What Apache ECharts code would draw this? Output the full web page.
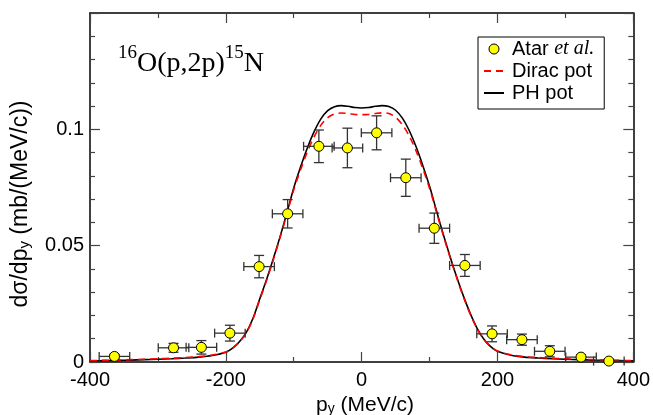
<!DOCTYPE html>
<html>
<head>
<meta charset="utf-8">
<script src="https://cdn.jsdelivr.net/npm/echarts@6/dist/echarts.min.js"></script>
<style>
html,body{margin:0;padding:0;background:#fff;}
#chart{width:653px;height:415px;}
</style>
</head>
<body>
<div id="chart"></div>
<script>
// ---- data ----
var expP    = [-364, -277, -236, -194, -151, -109, -63, -21, 22, 65, 107, 152, 192, 236, 277, 323, 364];
var expVal  = [0.0024, 0.0061, 0.0063, 0.0124, 0.0410, 0.0637, 0.0927, 0.0920, 0.0985, 0.0792, 0.0575, 0.0415, 0.0121, 0.0096, 0.0046, 0.0021, 0.0004];
var expPErr = [22.5, 22.5, 22.5, 22.5, 22.5, 22.5, 22.5, 22.5, 22.5, 22.5, 22.5, 22.5, 22.5, 22.5, 22.5, 22.5, 22.5];
var expVErr = [0.0009, 0.0019, 0.0029, 0.0034, 0.0048, 0.0061, 0.0070, 0.0085, 0.0073, 0.0080, 0.0065, 0.0047, 0.0034, 0.0024, 0.0024, 0.0010, 0.0008];

var curveP = [-400,-380,-360,-340,-320,-300,-280,-260,-240,-220,-200,-190,-180,-170,-160,-150,-140,-130,-120,-110,-100,-90,-80,-70,-60,-50,-40,-30,-20,-10,0,10,20,30,40,50,60,70,80,90,100,110,120,130,140,150,160,170,180,190,200,220,240,260,280,300,320,340,360,380,400];
var phPot = [0.0005,0.0006,0.0007,0.0008,0.0010,0.0012,0.0014,0.0017,0.0021,0.0028,0.0042,0.0060,0.0087,0.0126,0.0188,0.0272,0.0355,0.0445,0.0540,0.0642,0.0748,0.0838,0.0920,0.0990,0.1045,0.1080,0.1097,0.1102,0.1099,0.1094,0.1092,0.1094,0.1099,0.1102,0.1098,0.1082,0.1048,0.0995,0.0926,0.0845,0.0755,0.0652,0.0550,0.0455,0.0365,0.0282,0.0208,0.0145,0.0098,0.0066,0.0046,0.0029,0.0021,0.0017,0.0014,0.0012,0.0010,0.0008,0.0007,0.0006,0.0005];
var diracPot = [0.0006,0.0007,0.0008,0.0010,0.0012,0.0014,0.0016,0.0019,0.0023,0.0030,0.0043,0.0060,0.0086,0.0124,0.0185,0.0268,0.0350,0.0440,0.0536,0.0636,0.0740,0.0826,0.0903,0.0968,0.1018,0.1050,0.1066,0.1070,0.1068,0.1064,0.1063,0.1064,0.1068,0.1071,0.1068,0.1052,0.1020,0.0972,0.0908,0.0832,0.0746,0.0646,0.0546,0.0451,0.0361,0.0278,0.0205,0.0143,0.0097,0.0066,0.0047,0.0031,0.0023,0.0019,0.0016,0.0014,0.0012,0.0010,0.0008,0.0007,0.0006];

var seriesNames = ['Atar et al.', 'Dirac pot', 'PH pot'];
var xTicks = [-400, -200, 0, 200, 400];
var yTicks = [0, 0.05, 0.1];

// ---- build ----
function pairs(xs, ys){ var o=[]; for (var i=0;i<xs.length;i++) o.push([xs[i], ys[i]]); return o; }
var errData = [];
for (var i=0;i<expP.length;i++) errData.push([expP[i], expVal[i], expPErr[i], expVErr[i]]);

var SANS = '"Liberation Sans", Arial, Helvetica, sans-serif';
var SERIF = '"Liberation Serif", "Times New Roman", serif';

function axisCommon(pos, isX, showLabel){
  var a = {
    type: 'value',
    position: pos,
    axisLine: {show: true, onZero: false, lineStyle: {color: '#000', width: 1.5}},
    axisTick: {show: true, inside: true, length: 10, lineStyle: {color: '#444', width: 1.2}},
    minorTick: {show: true, splitNumber: isX ? 2 : 5, length: 5, lineStyle: {color: '#444', width: 1.2}},
    splitLine: {show: false},
    axisLabel: {show: showLabel, color: '#000', fontFamily: SANS, fontSize: 20, margin: 8}
  };
  if (isX) { a.min = xTicks[0]; a.max = xTicks[xTicks.length-1]; a.interval = 200; }
  else { a.min = 0; a.max = 0.15; a.interval = 0.05;
         a.axisLabel.formatter = function(v){ var r = Math.round(v*1000)/1000; return yTicks.indexOf(r) >= 0 ? String(r) : ''; };
         a.axisLabel.margin = 6; }
  return a;
}

var chart = echarts.init(document.getElementById('chart'), null, {renderer: 'canvas'});
var option = {
  animation: false,
  backgroundColor: '#fff',
  grid: {left: 90, right: 18, top: 13, bottom: 53, containLabel: false},
  xAxis: [axisCommon('bottom', true, true), axisCommon('top', true, false)],
  yAxis: [axisCommon('left', false, true), axisCommon('right', false, false)],
  legend: {
    orient: 'vertical',
    left: 478, top: 37,
    width: 127,
    data: [
      {name: seriesNames[0], icon: 'circle', itemStyle: {color: '#ffff00', borderColor: '#000', borderWidth: 1}},
      {name: seriesNames[1], itemStyle: {opacity: 0}},
      {name: seriesNames[2], itemStyle: {opacity: 0}}
    ],
    backgroundColor: '#fff',
    borderColor: '#000', borderWidth: 1,
    padding: [2, 10, 6, 5],
    itemGap: 2,
    itemWidth: 20, itemHeight: 10,
    textStyle: {fontFamily: SANS, fontSize: 20, color: '#000', padding: [0, 0, 0, 3],
      rich: {n: {fontFamily: SANS, fontSize: 20, color: '#000', lineHeight: 23},
             i: {fontFamily: SERIF, fontStyle: 'italic', fontSize: 20, color: '#000', lineHeight: 23}}},
    formatter: function(name){
      if (name === 'Atar et al.') return '{n|Atar }{i|et al.}';
      return '{n|' + name + '}';
    }
  },
  series: [
    {
      name: 'PH pot', type: 'line', data: pairs(curveP, phPot),
      showSymbol: false, symbol: 'none', smooth: 0.3, z: 3,
      lineStyle: {color: '#000', width: 1.6}, itemStyle: {color: '#000'}
    },
    {
      name: 'Dirac pot', type: 'line', data: pairs(curveP, diracPot),
      showSymbol: false, symbol: 'none', smooth: 0.3, z: 4,
      lineStyle: {color: '#ff0000', width: 1.6, type: [7, 5]}, itemStyle: {color: '#ff0000'}
    },
    {
      name: 'errbars', type: 'custom', z: 5, silent: true,
      data: errData,
      renderItem: function(params, api){
        var x = api.value(0), y = api.value(1), xe = api.value(2), ye = api.value(3);
        var c = api.coord([x, y]);
        var l = api.coord([x - xe, y]), r = api.coord([x + xe, y]);
        var t = api.coord([x, y + ye]), b = api.coord([x, y - ye]);
        var st = {stroke: '#333', lineWidth: 1.3};
        var cx = 4.5, cy = 5;
        return {type: 'group', children: [
          {type: 'line', shape: {x1: l[0], y1: c[1], x2: r[0], y2: c[1]}, style: st},
          {type: 'line', shape: {x1: l[0], y1: c[1]-cx, x2: l[0], y2: c[1]+cx}, style: st},
          {type: 'line', shape: {x1: r[0], y1: c[1]-cx, x2: r[0], y2: c[1]+cx}, style: st},
          {type: 'line', shape: {x1: c[0], y1: t[1], x2: c[0], y2: b[1]}, style: st},
          {type: 'line', shape: {x1: c[0]-cy, y1: t[1], x2: c[0]+cy, y2: t[1]}, style: st},
          {type: 'line', shape: {x1: c[0]-cy, y1: b[1], x2: c[0]+cy, y2: b[1]}, style: st}
        ]};
      }
    },
    {
      name: 'Atar et al.', type: 'scatter', data: pairs(expP, expVal), z: 6,
      symbol: 'circle', symbolSize: 10,
      itemStyle: {color: '#ffff00', borderColor: '#000', borderWidth: 1, opacity: 1}
    }
  ],
  graphic: [
    {
      type: 'text', left: 118, top: 44, z: 10,
      style: {
        text: '{s|16}{m|O(p,2p)}{s|15}{m|N}',
        rich: {
          s: {fontFamily: SERIF, fontSize: 19, color: '#000', verticalAlign: 'top', lineHeight: 34},
          m: {fontFamily: SERIF, fontSize: 28, color: '#000', verticalAlign: 'bottom', lineHeight: 34}
        }
      }
    },
    {
      type: 'text', x: 365, y: 403, z: 10,
      style: {
        text: '{m|p}{s|y}{m| (MeV/c)}', align: 'center', verticalAlign: 'middle',
        rich: {
          m: {fontFamily: SANS, fontSize: 21, color: '#000', verticalAlign: 'bottom', lineHeight: 26},
          s: {fontFamily: SANS, fontSize: 14, color: '#000', verticalAlign: 'bottom', lineHeight: 20}
        }
      }
    },
    {
      type: 'text', x: 18, y: 204, rotation: Math.PI/2, z: 10,
      style: {
        text: '{m|dσ/dp}{s|y}{m| (mb/(MeV/c))}', align: 'center', verticalAlign: 'middle',
        rich: {
          m: {fontFamily: SANS, fontSize: 23, color: '#000', verticalAlign: 'bottom', lineHeight: 28},
          s: {fontFamily: SANS, fontSize: 15, color: '#000', verticalAlign: 'bottom', lineHeight: 21}
        }
      }
    }
  ]
};
chart.setOption(option);
</script>
</body>
</html>
